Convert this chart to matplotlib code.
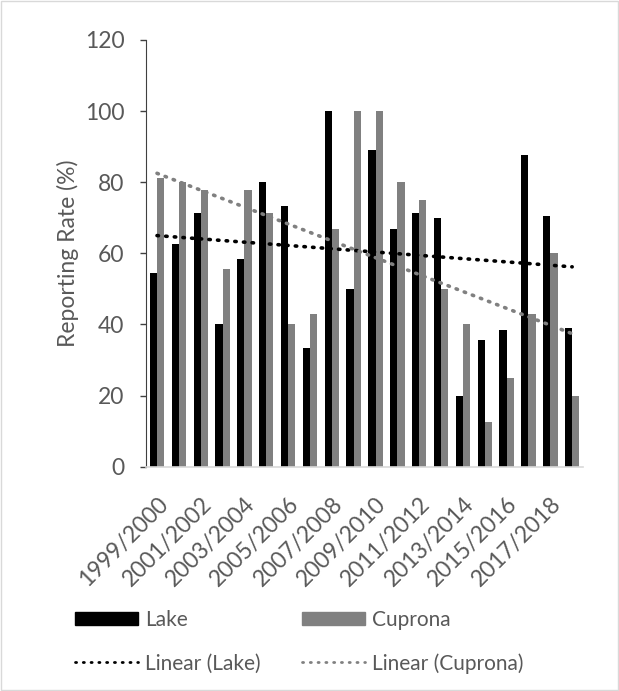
import matplotlib
matplotlib.use("Agg")
import matplotlib.pyplot as plt
import numpy as np
from matplotlib.patches import Rectangle
from matplotlib.lines import Line2D

plt.rcParams['font.family'] = ['Lato', 'DejaVu Sans']

seasons = [f"{y}/{y + 1}" for y in range(1999, 2019)]
lake = [54.5, 62.5, 71.4, 40.0, 58.3, 80.0, 73.3, 33.3, 100.0, 50.0,
        88.9, 66.7, 71.4, 70.0, 20.0, 35.7, 38.5, 87.5, 70.6, 39.1]
cuprona = [81.3, 80.0, 77.8, 55.6, 77.8, 71.4, 40.0, 42.9, 66.7, 100.0,
           100.0, 80.0, 75.0, 50.0, 40.0, 12.5, 25.0, 42.9, 60.0, 20.0]
y_ticks = [0, 20, 40, 60, 80, 100, 120]

text_col = "#595959"
lake_col = "#000000"
cup_col = "#808080"
fs = 16.5
legend_fs = 15
W, H = 619, 691

fig = plt.figure(figsize=(W / 100, H / 100), dpi=100)
fig.add_artist(Rectangle((0.001, 0.001), 0.997, 0.997, transform=fig.transFigure,
                         fill=False, edgecolor="#d9d9d9", linewidth=1.0))

ax = fig.add_axes([0.236, 0.3246, 0.706, 0.6177])

x = np.arange(len(seasons))
w = 0.33
ax.bar(x - w / 2, lake, width=w, color=lake_col)
ax.bar(x + w / 2, cuprona, width=w, color=cup_col)

# linear trendlines
dot = (0, (0.4, 2.0))
for vals, col in [(lake, lake_col), (cuprona, cup_col)]:
    k, b = np.polyfit(x, vals, 1)
    ax.plot(x, k * x + b, color=col, linewidth=2.6, linestyle=dot,
            dash_capstyle="round")

ax.set_xlim(-0.5, len(seasons) - 0.5)
ax.set_ylim(0, 120)
ax.set_yticks(y_ticks)
ax.set_xticks(x[::2])
ax.set_xticklabels(seasons[::2], rotation=45, ha="right", rotation_mode="anchor")
ax.tick_params(axis="x", length=0, pad=19, labelsize=fs, labelcolor=text_col)
ax.tick_params(axis="y", length=4.5, width=1, color="#404040", pad=11,
               labelsize=fs, labelcolor=text_col)

for s in ["top", "right"]:
    ax.spines[s].set_visible(False)
ax.spines["left"].set_color("#404040")
ax.spines["bottom"].set_color("#d9d9d9")
ax.spines["bottom"].set_linewidth(1.2)

ax.set_ylabel("Reporting Rate (%)", fontsize=fs, color=text_col)
ax.yaxis.set_label_coords(-0.153, 0.5)


# legend laid out in figure pixels
def fx(px):
    return px / W


def fy(py):
    return 1 - py / H


rows = [618, 662]
cols = [(75, 138, 145), (302, 365, 372)]
entries = [("Lake", lake_col, "bar", 0, 0), ("Cuprona", cup_col, "bar", 0, 1),
           ("Linear (Lake)", lake_col, "line", 1, 0),
           ("Linear (Cuprona)", cup_col, "line", 1, 1)]
for label, col, kind, r, c in entries:
    x0, x1, tx = cols[c]
    yc = rows[r]
    if kind == "bar":
        fig.add_artist(Rectangle((fx(x0), fy(yc + 6.5)), fx(x1) - fx(x0),
                                 fy(yc - 6.5) - fy(yc + 6.5),
                                 transform=fig.transFigure, color=col))
    else:
        fig.add_artist(Line2D([fx(x0), fx(x1)], [fy(yc), fy(yc)],
                              transform=fig.transFigure, color=col,
                              linewidth=2.0, linestyle=(0, (0.4, 2.4)),
                              dash_capstyle="round"))
    fig.text(fx(tx), fy(yc), label, fontsize=legend_fs, color=text_col,
             ha="left", va="center_baseline")

fig.savefig("out.png", dpi=100)
